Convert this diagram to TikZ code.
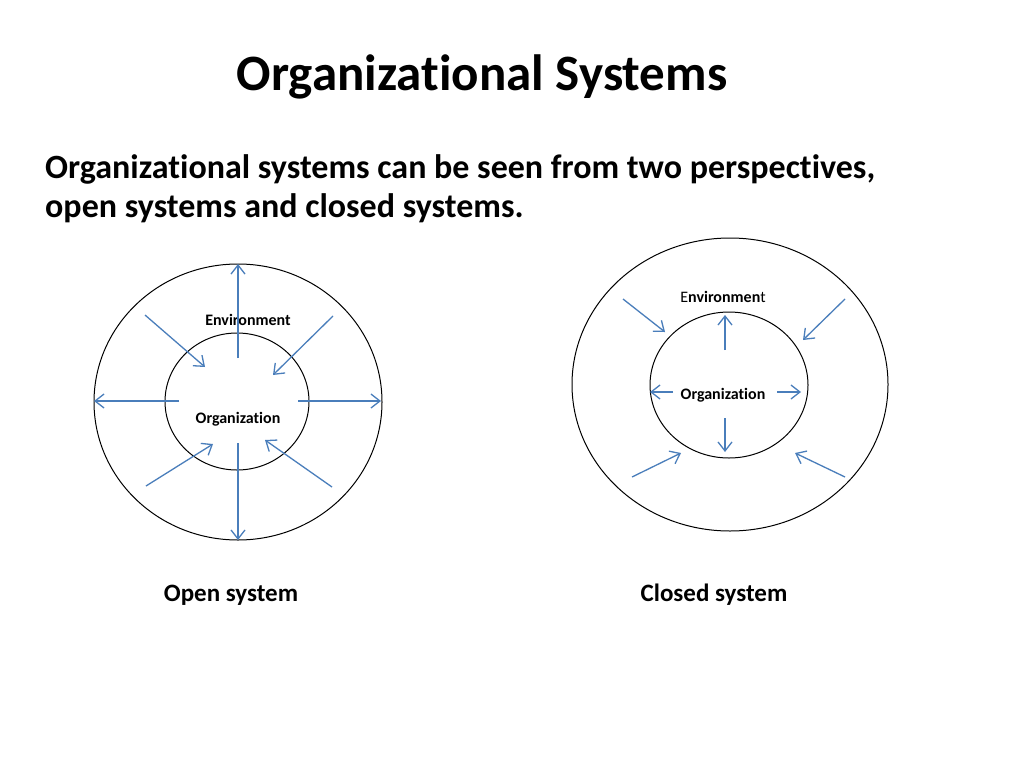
\documentclass[tikz,border=0pt]{standalone}
\usepackage{fontspec}
\setmainfont{Carlito}[Ligatures=NoCommon]
\usetikzlibrary{arrows.meta,shapes.geometric}
\definecolor{arrowblue}{HTML}{4A7EBB}
\begin{document}
\begin{tikzpicture}[x=1pt,y=-1pt,
  flow/.style={draw=arrowblue, line width=1.3pt,
    -{Straight Barb[length=9pt,width=14pt,line width=1.3pt]}},
  ring/.style={draw=black, line width=1pt, ellipse, inner sep=0pt},
  titletext/.style={font=\fontsize{51}{60}\selectfont\bfseries, inner sep=0pt},
  bodytext/.style={font=\fontsize{34}{40}\selectfont\bfseries, inner sep=0pt, anchor=base west},
  labeltext/.style={font=\fontsize{16}{19}\selectfont\bfseries, inner sep=0pt},
  captiontext/.style={font=\fontsize{25}{30}\selectfont\bfseries, inner sep=0pt}
]
\useasboundingbox[fill=white] (0,0) rectangle (1024,768);

% titles
\node[titletext, anchor=base] (title) at (482,90) {Organizational Systems};
\node[bodytext] (body1) at (45,178) {Organizational systems can be seen from two perspectives,};
\node[bodytext] (body2) at (45,217) {open systems and closed systems.};

% ---------- open system ----------
\node[ring, minimum width=288pt, minimum height=276pt] (envL) at (238,402) {};
\node[ring, minimum width=144pt, minimum height=137pt] (orgL) at (237,401.5) {};
\node[labeltext] (envLtext) at (248,320) {Environment};
\node[labeltext] (orgLtext) at (238,419) {Organization};

\coordinate (lUpA) at (238,358);  \coordinate (lUpB) at (238,264);
\coordinate (lDnA) at (238,443);  \coordinate (lDnB) at (238,540);
\coordinate (lLfA) at (179,401);  \coordinate (lLfB) at (94,401);
\coordinate (lRtA) at (298,401);  \coordinate (lRtB) at (381,401);
\coordinate (lNWA) at (145,315);  \coordinate (lNWB) at (205,367);
\coordinate (lNEA) at (333,316);  \coordinate (lNEB) at (273,375);
\coordinate (lSWA) at (146,486);  \coordinate (lSWB) at (213,444);
\coordinate (lSEA) at (332,487);  \coordinate (lSEB) at (265,440);
\foreach \a in {Up,Dn,Lf,Rt,NW,NE,SW,SE}
  \draw[flow] (l\a A) -- (l\a B);

\node[captiontext] (capL) at (231,595) {Open system};

% ---------- closed system ----------
\node[ring, minimum width=316pt, minimum height=293pt] (envR) at (730,384.5) {};
\node[ring, minimum width=158pt, minimum height=146pt] (orgR) at (729,385) {};
\node[labeltext] (envRtext) at (723,297) {{\mdseries E}nvironmen{\mdseries t}};
\node[labeltext] (orgRtext) at (723,395) {Organization};

\coordinate (rUpA) at (725,350);  \coordinate (rUpB) at (725,315);
\coordinate (rDnA) at (725,418);  \coordinate (rDnB) at (725,452);
\coordinate (rLfA) at (673,392);  \coordinate (rLfB) at (650,392);
\coordinate (rRtA) at (777,392);  \coordinate (rRtB) at (801,392);
\coordinate (rNWA) at (623,299);  \coordinate (rNWB) at (665,332);
\coordinate (rNEA) at (845,299);  \coordinate (rNEB) at (803,340);
\coordinate (rSWA) at (632,477);  \coordinate (rSWB) at (681,453);
\coordinate (rSEA) at (845,477);  \coordinate (rSEB) at (795,453);
\foreach \a in {Up,Dn,Lf,Rt,NW,NE,SW,SE}
  \draw[flow] (r\a A) -- (r\a B);

\node[captiontext] (capR) at (714,595) {Closed system};
\end{tikzpicture}
\end{document}
